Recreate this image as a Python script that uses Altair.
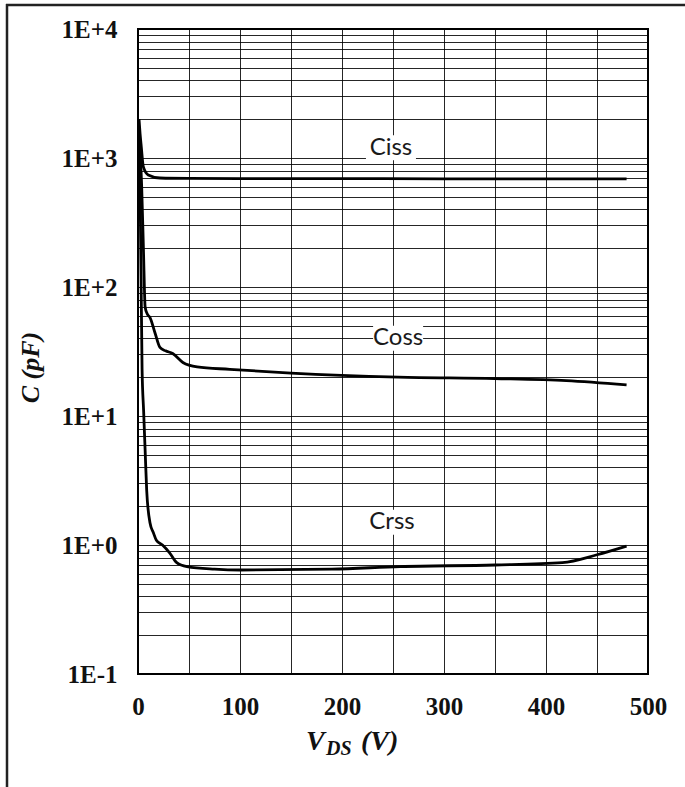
import altair as alt
import pandas as pd

# ---- data ----
ciss_v = [1.0, 2.0, 3.2, 5.2, 10, 21.5, 50, 100, 200, 300, 400, 479]
ciss_c = [2000, 1550, 1225, 856, 739, 700, 695, 693, 692, 690, 690, 690]

coss_v = [1.5, 2.5, 3.6, 5.3, 7, 9, 11.8, 16.7, 21.5, 27, 34, 44, 58, 90, 150, 255, 350, 420, 479]
coss_c = [1500, 1000, 600, 200, 70, 62, 58, 44, 34, 32, 30.5, 26, 24, 23, 21.5, 20, 19.5, 18.8, 17.4]

crss_v = [1.5, 2.0, 3.0, 4.0, 5.5, 7.0, 8.5, 11.8, 15, 18, 24, 31, 38, 48, 75, 100, 190, 257, 350, 416, 450, 479]
crss_c = [1200, 600, 120, 23, 11, 5.4, 2.67, 1.48, 1.25, 1.09, 1.0, 0.87, 0.73, 0.68, 0.65, 0.64, 0.65, 0.68, 0.70, 0.73, 0.84, 0.98]

label_names = ["Ciss", "Coss", "Crss"]
label_v = [248, 255, 249]
label_c = [1200, 40, 1.5]

x_grid_values = list(range(0, 501, 50))
y_grid_values = sorted({round(m * 10.0 ** e, 6) for e in range(-1, 4) for m in range(1, 10)} | {10000})

rows = []
for name, vs, cs in (("Ciss", ciss_v, ciss_c), ("Coss", coss_v, coss_c), ("Crss", crss_v, crss_c)):
    for v, c in zip(vs, cs):
        rows.append({"series": name, "V": v, "C": c})
df = pd.DataFrame(rows)
lab = pd.DataFrame({"name": label_names, "V": label_v, "C": label_c})

x_scale = alt.Scale(domain=[0, 500], nice=False, zero=False)
y_scale = alt.Scale(type="log", domain=[0.1, 10000], nice=False)

tick_font = "Liberation Serif"
x_axis = alt.Axis(
    values=x_grid_values, format="d",
    labelExpr="datum.value % 100 == 0 ? datum.label : ''",
    grid=True, gridColor="#000", gridWidth=1, gridOpacity=0.85,
    ticks=False, domain=False, title=None,
    labelFont=tick_font, labelFontWeight="bold", labelFontSize=25, labelColor="#111",
    labelPadding=20, labelOverlap=False, labelFlush=False,
)
lg = "(log(datum.value)/LN10)"
y_axis = alt.Axis(
    values=y_grid_values,
    labelExpr=f"abs({lg} - round({lg})) < 0.001 ? '1E' + (round({lg}) < 0 ? '-' : '+') + abs(round({lg})) : ''",
    grid=True, gridColor="#000", gridWidth=1, gridOpacity=0.85,
    ticks=False, domain=False,
    labelFont=tick_font, labelFontWeight="bold", labelFontSize=25, labelColor="#111",
    labelPadding=21, labelOverlap=False, labelFlush=False,
    title="C (pF)", titleFont=tick_font, titleFontWeight="bold", titleFontStyle="italic",
    titleFontSize=26, titleColor="#111", titleX=-108, titleY=338, titleAngle=270,
    titleAlign="center", titleBaseline="middle",
)

lines = alt.Chart(df).mark_line(color="#000", strokeWidth=2.8, interpolate="monotone", clip=True).encode(
    x=alt.X("V:Q", scale=x_scale, axis=x_axis),
    y=alt.Y("C:Q", scale=y_scale, axis=y_axis),
    detail="series:N",
)

boxes = alt.Chart(lab).mark_point(
    shape="M-1,-0.5H1V0.5H-1Z", size=2500, filled=True, fill="white", opacity=1, strokeWidth=0
).encode(x=alt.X("V:Q", scale=x_scale), y=alt.Y("C:Q", scale=y_scale))

texts = alt.Chart(lab).mark_text(font="Lato", fontSize=24, color="#1a1a1a").encode(
    x=alt.X("V:Q", scale=x_scale), y=alt.Y("C:Q", scale=y_scale), text="name:N"
)

one = pd.DataFrame({"k": [0]})
title_font = dict(font=tick_font, fontWeight="bold", fontStyle="italic", color="#111", align="left", baseline="alphabetic")
t_v = alt.Chart(one).mark_text(fontSize=28, **title_font).encode(
    x=alt.value(168), y=alt.value(721), text=alt.value("V"))
t_ds = alt.Chart(one).mark_text(fontSize=20, **title_font).encode(
    x=alt.value(188), y=alt.value(726), text=alt.value("DS"))
t_unit = alt.Chart(one).mark_text(fontSize=28, **title_font).encode(
    x=alt.value(223), y=alt.value(721), text=alt.value("(V)"))

frame_left = alt.Chart(one).mark_rule(color="#222", strokeWidth=2.5, clip=False).encode(
    x=alt.value(-131), y=alt.value(-25), y2=alt.value(760))
frame_top = alt.Chart(one).mark_rule(color="#222", strokeWidth=2.5, clip=False).encode(
    x=alt.value(-132), x2=alt.value(550), y=alt.value(-24))

chart = alt.layer(lines, boxes, texts, t_v, t_ds, t_unit, frame_left, frame_top).properties(
    width=510, height=645,
    padding={"left": 138, "top": 29, "right": 37, "bottom": 113},
    autosize=alt.AutoSizeParams(type="none"),
    background="white",
).configure_view(stroke="#000", strokeWidth=2)

chart.save("out.html", embed_options={"renderer": "svg", "actions": False})
